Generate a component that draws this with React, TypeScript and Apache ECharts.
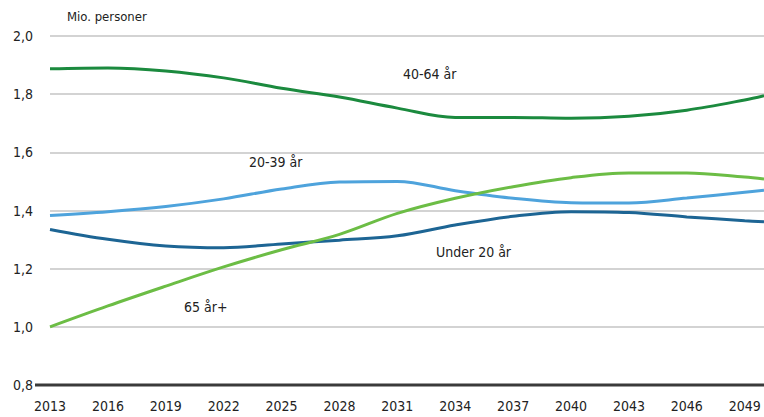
import React, { useEffect, useRef } from "react";
import * as echarts from "echarts";

const years = [2013, 2016, 2019, 2022, 2025, 2028, 2031, 2034, 2037, 2040, 2043, 2046, 2049, 2050];
const age40to64 = [1.887, 1.89, 1.88, 1.856, 1.82, 1.79, 1.752, 1.72, 1.72, 1.717, 1.724, 1.745, 1.78, 1.795];
const age20to39 = [1.383, 1.396, 1.414, 1.44, 1.474, 1.498, 1.5, 1.468, 1.442, 1.427, 1.426, 1.443, 1.463, 1.47];
const under20 = [1.335, 1.301, 1.278, 1.272, 1.285, 1.298, 1.313, 1.35, 1.38, 1.396, 1.393, 1.378, 1.365, 1.361];
const age65plus = [1.0, 1.072, 1.14, 1.206, 1.265, 1.318, 1.39, 1.442, 1.482, 1.513, 1.529, 1.529, 1.515, 1.508];

const seriesNames = ["40-64 år", "20-39 år", "Under 20 år", "65 år+"];
const seriesColors = ["#1b8a3e", "#4ea3dc", "#1d6594", "#6cbd45"];
const seriesValues = [age40to64, age20to39, under20, age65plus];

const FONT = '"Liberation Sans Narrow", "DejaVu Sans Condensed", "Open Sans", sans-serif';

export default function App() {
  const ref = useRef<HTMLDivElement>(null);
  useEffect(() => {
    if (!ref.current) return;
    const chart = echarts.init(ref.current, null, { renderer: "svg" });
    chart.setOption({
      animation: false,
      backgroundColor: "#ffffff",
      grid: { left: 50, right: -3, top: 36, bottom: 32 },
      xAxis: {
        type: "value",
        min: 2013,
        max: 2050,
        interval: 3,
        axisLine: { show: false },
        axisTick: { show: false },
        splitLine: { show: false },
        axisLabel: {
          showMaxLabel: false,
          margin: 14,
          fontSize: 14,
          color: "#222",
          fontFamily: FONT,
          formatter: (v: number) => String(v),
        },
      },
      yAxis: {
        type: "value",
        min: 0.8,
        max: 2.0,
        interval: 0.2,
        axisLine: { show: false },
        axisTick: { show: false },
        splitLine: { lineStyle: { color: "#c4c4c4", width: 1.5 } },
        axisLabel: {
          margin: 17,
          fontSize: 14,
          color: "#222",
          fontFamily: FONT,
          formatter: (v: number) => v.toFixed(1).replace(".", ","),
        },
      },
      series: seriesNames.map((name, i) => ({
        name,
        type: "line",
        smooth: 0.35,
        symbol: "none",
        lineStyle: { color: seriesColors[i], width: 3 },
        data: years.map((y, j) => [y, seriesValues[i][j]]),
      })),
      graphic: [
        { type: "line", shape: { x1: 35, y1: 385, x2: 764, y2: 385 }, style: { stroke: "#3a3a3a", lineWidth: 3 }, z: 100 },
        { type: "text", left: 67, top: 10, style: { text: "Mio. personer", fontSize: 13, fill: "#222", fontFamily: FONT } },
        { type: "text", left: 403, top: 67, style: { text: "40-64 år", fontSize: 14, fill: "#222", fontFamily: FONT } },
        { type: "text", left: 249, top: 155, style: { text: "20-39 år", fontSize: 14, fill: "#222", fontFamily: FONT } },
        { type: "text", left: 436, top: 245, style: { text: "Under 20 år", fontSize: 14, fill: "#222", fontFamily: FONT } },
        { type: "text", left: 184, top: 300, style: { text: "65 år+", fontSize: 14, fill: "#222", fontFamily: FONT } },
      ],
    });
    return () => chart.dispose();
  }, []);
  return <div ref={ref} style={{ width: 764, height: 417, position: "fixed", left: 0, top: 0 }} />;
}
